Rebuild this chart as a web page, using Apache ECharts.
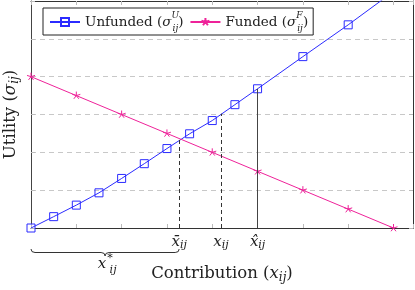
<!DOCTYPE html>
<html><head><meta charset="utf-8">
<script src="https://cdn.jsdelivr.net/npm/echarts@6/dist/echarts.min.js"></script>
<style>html,body{margin:0;padding:0;background:#fff}#c{width:415px;height:290px}</style>
</head><body><div id="c"></div>
<script>
// Data
const unfundedX = [0, 0.5, 1, 1.5, 2, 2.5, 3, 3.5, 4, 4.5, 5, 6, 7, 8];
const unfundedY = [0, 0.30, 0.605, 0.93, 1.31, 1.70, 2.10, 2.49, 2.84, 3.26, 3.68, 4.53, 5.37, 6.25];
const fundedX = [0, 1, 2, 3, 4, 5, 6, 7, 8];
const fundedY = [4, 3.5, 3, 2.5, 2, 1.5, 1, 0.5, 0];
const xBar = 3.27, yBar = 2.36;   // intersection
const xVal = 4.19, yVal = 3.02;   // x_ij
const xHat = 5, yHat = 3.68;      // x-hat
const xMin = 0, xMax = 8.43, yMin = 0, yMax = 6;

const SERIF = '"DejaVu Serif", serif';
const BLUE = '#2b2bff', PINK = '#ee2299';
const STAR = 'path://M10,10L10,0M10,10L19.51,6.91M10,10L15.88,18.09M10,10L4.12,18.09M10,10L0.49,6.91M10,20L10,20';

const chart = echarts.init(document.getElementById('c'), null, {renderer: 'canvas'});
const sub = (fs, pad) => ({fontFamily: SERIF, fontStyle: 'italic', fontSize: fs, color: '#222', verticalAlign: 'bottom', padding: [pad, 0, 0, 0]});
const unfData = unfundedX.map((x, i) => (i === unfundedX.length - 1 ? {value: [x, unfundedY[i]], symbol: 'none'} : [x, unfundedY[i]]));
const fData = fundedX.map((x, i) => [x, fundedY[i]]);

chart.setOption({
  animation: false,
  backgroundColor: '#fff',
  grid: {left: 31, right: 2, top: 1, bottom: 62, containLabel: false, outerBoundsMode: 'none'},
  legend: {
    left: 43, top: 8, orient: 'horizontal',
    backgroundColor: '#fff', borderColor: '#222', borderWidth: 1,
    padding: [3, 5, 2, 6], itemWidth: 30, itemHeight: 10, itemGap: 6,
    textStyle: {
      fontFamily: SERIF, fontSize: 13.5, color: '#222',
      rich: {
        t: {fontFamily: SERIF, fontSize: 13.5, color: '#222', lineHeight: 22},
        s: {fontFamily: SERIF, fontStyle: 'italic', fontSize: 13.5, color: '#222'},
        sup: {fontFamily: SERIF, fontStyle: 'italic', fontSize: 9, color: '#222', verticalAlign: 'top', width: 1},
        sub: {fontFamily: SERIF, fontStyle: 'italic', fontSize: 9, color: '#222', verticalAlign: 'bottom'}
      }
    },
    formatter: n => n === 'Unfunded' ? '{t|Unfunded (}{s|σ}{sup|U}{sub|ij}{t|)}' : '{t|Funded (}{s|σ}{sup|F}{sub|ij}{t|)}'
  },
  xAxis: [{
    type: 'value', min: xMin, max: xMax, interval: 1, position: 'bottom',
    axisLine: {show: true, onZero: false, lineStyle: {color: '#333', width: 1}},
    axisTick: {show: true, inside: true, length: 4, lineStyle: {color: '#bbb'}},
    splitLine: {show: false},
    axisLabel: {
      show: true, customValues: [xBar, xVal, xHat], margin: 5,
      formatter: v => (Math.abs(v - xBar) < 1e-6 ? '{it|x\u0304}{sub|ij}' : Math.abs(v - xHat) < 1e-6 ? '{it|x\u0302}{sub|ij}' : '{it|x}{sub|ij}'),
      rich: {it: {fontFamily: SERIF, fontStyle: 'italic', fontSize: 15, color: '#222'}, sub: sub(11, 7)}
    },
    name: 'Contribution ({it|x}{sub|ij})', nameLocation: 'middle', nameGap: 36,
    nameTextStyle: {fontFamily: SERIF, fontSize: 16.5, color: '#222', rich: {it: {fontFamily: SERIF, fontStyle: 'italic', fontSize: 16.5, color: '#222'}, sub: sub(12, 8)}}
  }, {
    type: 'value', min: xMin, max: xMax, interval: 1, position: 'top',
    axisLine: {show: true, onZero: false, lineStyle: {color: '#333', width: 1}},
    axisTick: {show: true, inside: true, length: 4, lineStyle: {color: '#bbb'}},
    axisLabel: {show: false}, splitLine: {show: false}
  }],
  yAxis: [{
    type: 'value', min: yMin, max: yMax, interval: 1, position: 'left',
    axisLine: {show: true, onZero: false, lineStyle: {color: '#444', width: 1}},
    axisTick: {show: true, inside: true, length: 4, lineStyle: {color: '#bbb'}},
    axisLabel: {show: false},
    splitLine: {show: true, lineStyle: {color: '#c8c8c8', type: [5, 4], width: 1}},
    name: 'Utility ({s|σ}{sub|ij})', nameLocation: 'middle', nameRotate: 90, nameGap: 10,
    nameTextStyle: {fontFamily: SERIF, fontSize: 16.5, color: '#222', rich: {s: {fontFamily: SERIF, fontStyle: 'italic', fontSize: 16.5, color: '#222'}, sub: sub(12, 8)}}
  }, {
    type: 'value', min: yMin, max: yMax, interval: 1, position: 'right',
    axisLine: {show: true, onZero: false, lineStyle: {color: '#333', width: 1}},
    axisTick: {show: true, inside: true, length: 4, lineStyle: {color: '#bbb'}},
    axisLabel: {show: false}, splitLine: {show: false}
  }],
  series: [{
    name: 'Unfunded', type: 'line', data: unfData, clip: true,
    symbol: 'rect', symbolSize: 8,
    lineStyle: {color: BLUE, width: 1},
    itemStyle: {color: 'rgba(255,255,255,0)', borderColor: BLUE, borderWidth: 1},
    z: 3,
    markLine: {
      silent: true, symbol: ['none', 'none'], label: {show: false},
      lineStyle: {color: '#333', width: 1, type: [4, 3]},
      data: [
        [{coord: [xBar, 0]}, {coord: [xBar, yBar]}],
        [{coord: [xVal, 0]}, {coord: [xVal, yVal]}],
        [{coord: [xHat, 0], lineStyle: {type: 'solid', color: '#444'}}, {coord: [xHat, yHat]}]
      ]
    }
  }, {
    name: 'Funded', type: 'line', data: fData, clip: true,
    symbol: STAR, symbolSize: 8,
    lineStyle: {color: PINK, width: 1},
    itemStyle: {color: PINK, borderColor: PINK, borderWidth: 1},
    z: 3
  }]
});

// Brace under [0, xBar]
const p0 = chart.convertToPixel({xAxisIndex: 0, yAxisIndex: 0}, [0, 0]);
const p1 = chart.convertToPixel({xAxisIndex: 0, yAxisIndex: 0}, [xBar, 0]);
const x0 = p0[0], x1 = p1[0], xm = (x0 + x1) / 2;
const yT = p0[1] + 21, yM = yT + 3.5, yP = yM + 3.5;
const bs = {fill: null, stroke: '#333', lineWidth: 1};
chart.setOption({
  graphic: [
    {type: 'bezierCurve', shape: {x1: x0, y1: yT, cpx1: x0, cpy1: yM, x2: x0 + 4, y2: yM}, style: bs},
    {type: 'line', shape: {x1: x0 + 4, y1: yM, x2: xm - 4, y2: yM}, style: bs},
    {type: 'bezierCurve', shape: {x1: xm - 4, y1: yM, cpx1: xm, cpy1: yM, x2: xm, y2: yP}, style: bs},
    {type: 'bezierCurve', shape: {x1: xm, y1: yP, cpx1: xm, cpy1: yM, x2: xm + 4, y2: yM}, style: bs},
    {type: 'line', shape: {x1: xm + 4, y1: yM, x2: x1 - 4, y2: yM}, style: bs},
    {type: 'bezierCurve', shape: {x1: x1 - 4, y1: yM, cpx1: x1, cpy1: yM, x2: x1, y2: yT}, style: bs},
    {type: 'text', x: xm - 3, y: yP + 8, style: {text: 'x', font: 'italic 15px "DejaVu Serif"', fill: '#222', align: 'center', verticalAlign: 'middle'}},
    {type: 'text', x: xm + 5, y: yP + 2, style: {text: '*', font: '11px "DejaVu Serif"', fill: '#222', align: 'center', verticalAlign: 'middle'}},
    {type: 'text', x: xm + 8, y: yP + 14, style: {text: 'ij', font: 'italic 11px "DejaVu Serif"', fill: '#222', align: 'center', verticalAlign: 'middle'}}
  ]
});
</script></body></html>
